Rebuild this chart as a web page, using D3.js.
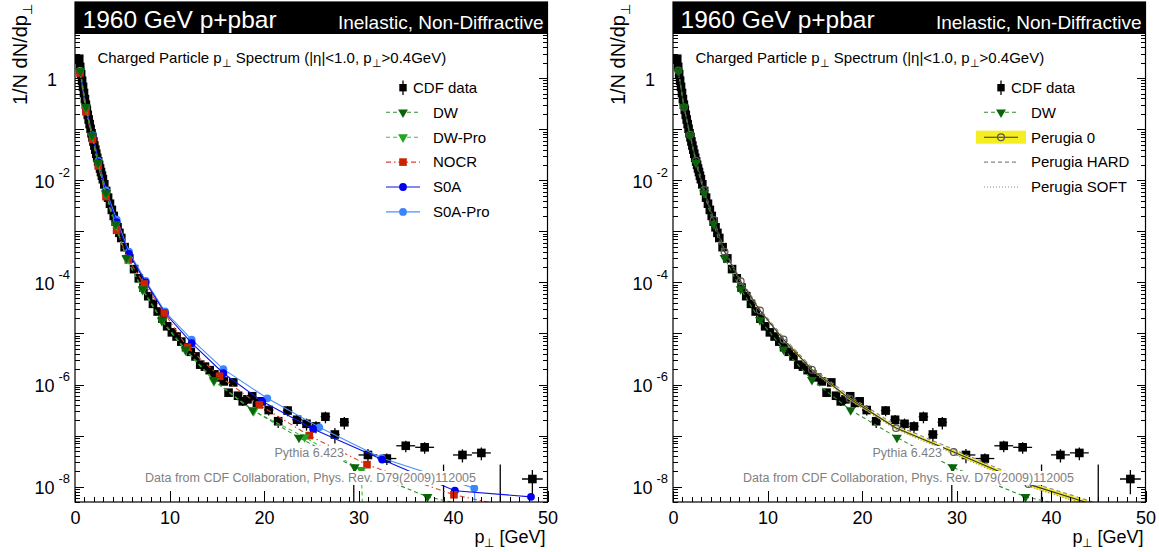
<!DOCTYPE html>
<html>
<head>
<meta charset="utf-8">
<script src="https://cdn.jsdelivr.net/npm/d3@7"></script>
<style>
  body { margin: 0; background: #fff; }
  svg text { font-family: "Liberation Sans", Arial, Helvetica, sans-serif; }
</style>
</head>
<body>
<div id="chart"></div>
<script>
// CDF data: bin centre, half width, value, error
const cdfPt = [0.45,0.55,0.65,0.75,0.85,0.95,1.05,1.15,1.25,1.35,1.45,1.55,1.65,1.75,1.85,1.95,2.05,2.15,2.25,2.35,2.45,2.55,2.65,2.75,2.85,2.95,
  3.1,3.3,3.5,3.7,3.9,4.1,4.3,4.5,4.7,4.9,
  5.25,5.75,6.25,6.75,7.25,7.75,8.25,8.75,9.25,9.75,
  10.25,10.75,11.25,11.75,12.25,12.75,13.25,13.75,14.25,14.75,15.25,15.75,16.25,16.75,17.25,17.75,18.25,18.75,19.25,19.75,
  20.5,21.5,22.5,23.5,24.5,25.5,26.5,27.5,28.5,29.5,
  31,33,35,37,39,41,43,45,48.4];
const cdfPtErr = [0.05,0.05,0.05,0.05,0.05,0.05,0.05,0.05,0.05,0.05,0.05,0.05,0.05,0.05,0.05,0.05,0.05,0.05,0.05,0.05,0.05,0.05,0.05,0.05,0.05,0.05,
  0.1,0.1,0.1,0.1,0.1,0.1,0.1,0.1,0.1,0.1,
  0.25,0.25,0.25,0.25,0.25,0.25,0.25,0.25,0.25,0.25,
  0.25,0.25,0.25,0.25,0.25,0.25,0.25,0.25,0.25,0.25,0.25,0.25,0.25,0.25,0.25,0.25,0.25,0.25,0.25,0.25,
  0.5,0.5,0.5,0.5,0.5,0.5,0.5,0.5,0.5,0.5,
  1,1,1,1,1,1,1,1,1.1];
const cdfVal = [2.40,1.66,1.20,0.891,0.676,0.513,0.389,0.302,0.240,0.191,0.155,0.126,0.102,0.0832,0.0692,0.0575,0.0479,0.0398,0.0331,0.0275,0.0234,0.0200,0.0170,0.0145,0.0123,0.0105,
  8.32e-3,6.17e-3,4.57e-3,3.47e-3,2.63e-3,2.00e-3,1.55e-3,1.20e-3,9.33e-4,7.41e-4,
  4.90e-4,2.95e-4,1.82e-4,1.20e-4,7.94e-5,5.37e-5,3.80e-5,2.69e-5,1.95e-5,1.38e-5,
  1.05e-5,8.71e-6,6.92e-6,5.37e-6,4.37e-6,3.55e-6,2.45e-6,2.24e-6,1.91e-6,1.58e-6,1.38e-6,1.15e-6,6.92e-7,1.10e-6,6.03e-7,4.68e-7,5.13e-7,5.89e-7,4.37e-7,4.68e-7,
  3.16e-7,1.91e-7,3.09e-7,2.04e-7,1.70e-7,1.51e-7,2.34e-7,1.05e-7,1.82e-7,3e-9,
  4.17e-8,3.55e-8,6.31e-8,5.89e-8,3e-9,4.17e-8,4.57e-8,3e-9,1.41e-8];
const cdfErr = [0.07,0.05,0.036,0.027,0.02,0.015,0.012,0.009,0.007,0.006,0.005,0.004,0.003,0.0025,0.0021,0.0017,0.0014,0.0012,0.001,0.0008,0.0007,0.0006,0.0005,0.00044,0.00037,0.00032,
  2.5e-4,1.9e-4,1.4e-4,1.0e-4,8e-5,6e-5,5e-5,4e-5,3e-5,2.2e-5,
  2.5e-5,1.5e-5,9e-6,6e-6,4e-6,2.7e-6,1.9e-6,1.3e-6,1.0e-6,7e-7,
  1.0e-6,9e-7,7e-7,6e-7,5e-7,4e-7,3e-7,3e-7,2.5e-7,2.2e-7,2e-7,1.7e-7,1.2e-7,1.7e-7,1.1e-7,9e-8,1e-7,1.1e-7,9e-8,1e-7,
  7e-8,5e-8,7e-8,5e-8,4.5e-8,4e-8,6e-8,3.5e-8,5e-8,2.4e-8,
  1.3e-8,9e-9,1.6e-8,1.5e-8,2.4e-8,1.2e-8,1.3e-8,2.4e-8,7e-9];

// Pythia tunes
const dwPt = [0.56,1.16,1.8,2.43,3.28,4.3,5.45,7.16,9.2,11.7,14.7,18.8,23.7,29.6,37.3,47.3];
const dwVal = [1.38,0.275,0.0759,0.0219,5.62e-3,1.38e-3,3.02e-4,7.41e-5,1.82e-5,4.90e-6,1.23e-6,3.16e-7,9.12e-8,2.40e-8,6.31e-9,2.51e-9];
const dwProPt = [0.56,1.16,1.8,2.43,3.28,4.3,5.45,7.16,9.2,11.7,14.7,18.9,24.3,30.3,30.6];
const dwProVal = [1.38,0.263,0.0741,0.0214,5.37e-3,1.32e-3,2.88e-4,7.08e-5,1.74e-5,4.68e-6,1.17e-6,3.02e-7,9.33e-8,2.14e-8,0];
const nocrPt = [0.53,1.16,1.87,2.47,3.28,4.4,5.64,7.34,9.45,11.9,15.3,19.5,24.8,30.9,40.1,48.6];
const nocrVal = [1.26,0.219,0.0631,0.0191,4.79e-3,1.05e-3,2.75e-4,9.33e-5,2.51e-5,5.37e-6,1.45e-6,3.98e-7,1.0e-7,2.69e-8,6.92e-9,3.16e-9];
const s0aPt = [0.53,1.16,1.87,2.47,3.28,4.41,5.71,7.48,9.52,12.35,15.7,19.8,25.2,32.5,40.2,48.25];
const s0aVal = [1.32,0.234,0.0724,0.0224,5.75e-3,1.51e-3,3.63e-4,1.0e-4,2.51e-5,6.46e-6,1.66e-6,4.68e-7,1.35e-7,3.39e-8,8.32e-9,6.31e-9];
const s0aProPt = [0.53,1.16,1.87,2.47,3.28,4.41,5.71,7.48,9.52,12.35,15.7,20.35,25.85,32.45,42.25,42.6];
const s0aProVal = [1.38,0.251,0.0759,0.0240,6.31e-3,1.70e-3,3.98e-4,1.07e-4,2.69e-5,7.59e-6,2.0e-6,5.37e-7,1.45e-7,3.63e-8,9.33e-9,0];
const perugiaPt = [0.56,1.16,1.8,2.43,3.28,4.3,5.45,7.16,9.2,11.7,14.7,18.7,23.6,29.7,37.6,47.0];
const perugia0Val = [1.41,0.269,0.0776,0.0240,6.46e-3,1.66e-3,3.98e-4,1.05e-4,2.82e-5,7.59e-6,1.95e-6,5.25e-7,1.41e-7,4.79e-8,1.12e-8,3.16e-9];
const perugia0RelErr = [0.02,0.02,0.02,0.02,0.03,0.03,0.03,0.04,0.04,0.05,0.05,0.06,0.07,0.08,0.1,0.12];
const perugiaHardVal = [1.45,0.275,0.0794,0.0251,6.76e-3,1.74e-3,4.27e-4,1.12e-4,3.02e-5,8.32e-6,2.14e-6,5.89e-7,1.58e-7,5.37e-8,1.26e-8,3.55e-9];
const perugiaSoftVal = [1.38,0.263,0.0759,0.0234,6.17e-3,1.58e-3,3.80e-4,1.0e-4,2.69e-5,7.24e-6,1.82e-6,4.90e-7,1.32e-7,4.37e-8,1.02e-8,2.82e-9];

// axis labels
const xTicks = [0, 10, 20, 30, 40, 50];
const yLabelExps = [0, -2, -4, -6, -8];

const svg = d3.select("#chart").append("svg")
  .attr("width", 1159).attr("height", 552);
svg.append("rect").attr("width", 1159).attr("height", 552).attr("fill", "#fff");

const x = d3.scaleLinear().domain([0, 50]).range([0, 472.5]);
const y = d3.scaleLog().domain([5e-9, 31]).range([502, 2]);
const yPos = (v) => (v > 0 ? y(v) : 560); // empty bins fall below the frame
const W = x.range()[1];

const zip = (pt, val) => pt.map((p, i) => [p, val[i]]);

const dw = { name: "DW", pts: zip(dwPt, dwVal), line: "#2f8f2f", fill: "#0a640a", dash: "4,3", marker: "tri" };
const dwPro = { name: "DW-Pro", pts: zip(dwProPt, dwProVal), line: "#3cc43c", fill: "#22a622", dash: "4,3", marker: "tri" };
const nocr = { name: "NOCR", pts: zip(nocrPt, nocrVal), line: "#d8442c", fill: "#cc2200", dash: "5,3,1.5,3", marker: "sq" };
const s0a = { name: "S0A", pts: zip(s0aPt, s0aVal), line: "#1010e6", fill: "#0000ee", dash: null, marker: "circ" };
const s0aPro = { name: "S0A-Pro", pts: zip(s0aProPt, s0aProVal), line: "#4a90ff", fill: "#3a86ff", dash: null, marker: "circ" };
const p0 = { name: "Perugia 0", pts: zip(perugiaPt, perugia0Val), line: "#333", fill: "none", dash: null, marker: "open", band: perugia0RelErr };
const pHard = { name: "Perugia HARD", pts: zip(perugiaPt, perugiaHardVal), line: "#888", fill: "none", dash: "4,3", marker: null };
const pSoft = { name: "Perugia SOFT", pts: zip(perugiaPt, perugiaSoftVal), line: "#888", fill: "none", dash: "1,2", marker: null };

function drawMarker(sel, s, px, py) {
  if (s.marker === "tri") {
    sel.append("path").attr("d", d3.symbol().type(d3.symbolTriangle).size(42)())
      .attr("transform", `translate(${px},${py}) rotate(180)`).attr("fill", s.fill);
  } else if (s.marker === "sq") {
    sel.append("rect").attr("x", px - 3.8).attr("y", py - 3.8).attr("width", 7.6).attr("height", 7.6).attr("fill", s.fill);
  } else if (s.marker === "circ") {
    sel.append("circle").attr("cx", px).attr("cy", py).attr("r", 3.9).attr("fill", s.fill);
  } else if (s.marker === "open") {
    sel.append("circle").attr("cx", px).attr("cy", py).attr("r", 3.4)
      .attr("fill", "none").attr("stroke", "#555").attr("stroke-width", 1.2);
  }
}

function drawPanel(x0, series, id) {
  const g = svg.append("g").attr("transform", `translate(${x0},0)`);
  g.append("clipPath").attr("id", "clip" + id)
    .append("rect").attr("x", 0).attr("y", 2).attr("width", W).attr("height", 500);
  const plot = g.append("g").attr("clip-path", `url(#clip${id})`);

  // data
  const cdf = cdfPt.map((p, i) => ({ p, dp: cdfPtErr[i], v: cdfVal[i], e: cdfErr[i] }));
  plot.selectAll("line.ex").data(cdf).join("line").attr("class", "ex")
    .attr("x1", (d) => x(d.p - d.dp)).attr("x2", (d) => x(d.p + d.dp))
    .attr("y1", (d) => yPos(d.v)).attr("y2", (d) => yPos(d.v))
    .attr("stroke", "#000").attr("stroke-width", 1.3);
  plot.selectAll("line.ey").data(cdf).join("line").attr("class", "ey")
    .attr("x1", (d) => x(d.p)).attr("x2", (d) => x(d.p))
    .attr("y1", (d) => yPos(d.v + d.e)).attr("y2", (d) => yPos(d.v - d.e))
    .attr("stroke", "#000").attr("stroke-width", 1.3);
  plot.selectAll("rect.cdf").data(cdf).join("rect").attr("class", "cdf")
    .attr("x", (d) => x(d.p) - 4.3).attr("y", (d) => yPos(d.v) - 4.3)
    .attr("width", 8.6).attr("height", 8.6).attr("fill", "#000");

  // MC
  const line = d3.line().x((d) => x(d[0])).y((d) => yPos(d[1]));
  series.forEach((s) => {
    if (s.band) {
      const area = d3.area().x((d) => x(d[0]))
        .y0((d, i) => yPos(d[1] * (1 - s.band[i])))
        .y1((d, i) => yPos(d[1] * (1 + s.band[i])));
      plot.append("path").datum(s.pts).attr("d", area).attr("fill", "#f5ee20");
    }
  });
  series.slice().reverse().forEach((s) => {
    plot.append("path").datum(s.pts).attr("d", line)
      .attr("fill", "none").attr("stroke", s.line).attr("stroke-width", 1.1)
      .attr("stroke-dasharray", s.dash);
    if (s.marker) {
      const mg = plot.append("g");
      s.pts.filter((d) => d[1] > 0).forEach((d) => drawMarker(mg, s, x(d[0]), yPos(d[1])));
    }
  });

  // axes
  const minors = [];
  for (let e = -9; e <= 1; e++) for (let m = 2; m <= 9; m++) minors.push(m * 10 ** e);
  const decades = d3.range(-8, 2).map((e) => 10 ** e);
  const axStyle = (a) => a.call((a) => a.select(".domain").remove())
    .call((a) => a.selectAll("line").attr("stroke", "#000").attr("shape-rendering", "crispEdges"));

  g.append("g").attr("transform", "translate(0,502)")
    .call(d3.axisBottom(x).tickValues(d3.range(0, 51, 1)).tickSize(-5).tickFormat("")).call(axStyle);
  g.append("g").attr("transform", "translate(0,502)")
    .call(d3.axisBottom(x).tickValues(xTicks).tickSize(-11).tickPadding(9).tickFormat(d3.format("d")))
    .call(axStyle)
    .call((a) => a.selectAll("text").attr("font-size", 18).attr("fill", "#000")
      .attr("font-family", "Liberation Sans, Arial, sans-serif"));
  [[d3.axisLeft, 0], [d3.axisRight, W]].forEach(([ax, tx]) => {
    g.append("g").attr("transform", `translate(${tx},0)`)
      .call(ax(y).tickValues(minors.filter((v) => v >= 5e-9 && v <= 31)).tickSize(-5).tickFormat("")).call(axStyle);
    g.append("g").attr("transform", `translate(${tx},0)`)
      .call(ax(y).tickValues(decades).tickSize(-9).tickFormat("")).call(axStyle);
  });

  yLabelExps.forEach((e) => {
    const t = g.append("text").attr("y", y(10 ** e)).attr("dy", "0.42em")
      .attr("font-size", 18).attr("text-anchor", "end");
    if (e === 0) {
      t.attr("x", -18).text("1");
    } else {
      t.attr("x", -5);
      t.append("tspan").text("10");
      t.append("tspan").attr("dx", 4).attr("dy", -11).attr("font-size", 13).text(String(e));
    }
  });

  // axis titles
  const yt = g.append("text").attr("transform", "translate(-48,4) rotate(-90)")
    .attr("font-size", 20).attr("text-anchor", "end");
  yt.append("tspan").text("1/N dN/dp");
  yt.append("tspan").attr("dy", 5).attr("font-size", 13).text("\u22a5");

  const xt = g.append("text").attr("x", W - 2).attr("y", 543)
    .attr("font-size", 18).attr("text-anchor", "end");
  xt.append("tspan").text("p");
  xt.append("tspan").attr("dy", 4).attr("font-size", 12).text("\u22a5");
  xt.append("tspan").attr("dy", -4).text(" [GeV]");

  // plot title
  const tt = g.append("text").attr("x", 22.4).attr("y", 63).attr("font-size", 15);
  tt.append("tspan").text("Charged Particle p");
  tt.append("tspan").attr("dy", 4).attr("font-size", 10.5).text("\u22a5");
  tt.append("tspan").attr("dy", -4).text(" Spectrum (|\u03b7|<1.0, p");
  tt.append("tspan").attr("dy", 4).attr("font-size", 10.5).text("\u22a5");
  tt.append("tspan").attr("dy", -4).text(">0.4GeV)");

  // notes with white boxes
  [["Pythia 6.423", 457], ["Data from CDF Collaboration, Phys. Rev. D79(2009)112005", 482]].forEach(([txt, ty]) => {
    const n = g.append("text").attr("x", txt.startsWith("Pythia") ? 269 : 401).attr("y", ty)
      .attr("text-anchor", "end").attr("font-size", 12.5).attr("fill", "#7f7f7f").text(txt);
    const b = n.node().getBBox();
    g.insert("rect", () => n.node())
      .attr("x", b.x - 1).attr("y", b.y).attr("width", b.width + 2).attr("height", b.height)
      .attr("fill", "#fff");
  });

  // header bar
  g.append("rect").attr("x", 0).attr("y", 2).attr("width", W).attr("height", 32).attr("fill", "#000");
  g.append("text").attr("x", 7.5).attr("y", 28).attr("font-size", 24.5).attr("fill", "#fff").text("1960 GeV p+pbar");
  g.append("text").attr("x", W - 4).attr("y", 29).attr("font-size", 19).attr("fill", "#fff")
    .attr("text-anchor", "end").text("Inelastic, Non-Diffractive");

  // frame
  g.append("rect").attr("x", 0).attr("y", 2).attr("width", W).attr("height", 500)
    .attr("fill", "none").attr("stroke", "#000").attr("stroke-width", 1.2);

  // legend
  const lg = g.append("g");
  lg.append("line").attr("x1", 328).attr("x2", 328).attr("y1", 80.5).attr("y2", 95).attr("stroke", "#000").attr("stroke-width", 1.3);
  lg.append("rect").attr("x", 324.3).attr("y", 84).attr("width", 7.4).attr("height", 7.4).attr("fill", "#000");
  lg.append("text").attr("x", 338).attr("y", 93).attr("font-size", 15).text("CDF data");
  series.forEach((s, i) => {
    const ry = 112.3 + i * 24.9;
    if (s.band) {
      lg.append("rect").attr("x", 303).attr("y", ry - 6.5).attr("width", 50).attr("height", 13).attr("fill", "#f5ee20");
    }
    lg.append("line").attr("x1", 311).attr("x2", 345).attr("y1", ry).attr("y2", ry)
      .attr("stroke", s.line).attr("stroke-width", 1.1).attr("stroke-dasharray", s.dash);
    if (s.marker) drawMarker(lg, s, 328, ry);
    lg.append("text").attr("x", 358).attr("y", ry + 5.3).attr("font-size", 15).text(s.name);
  });
}

drawPanel(75, [dw, dwPro, nocr, s0a, s0aPro], "L");
drawPanel(673, [dw, p0, pHard, pSoft], "R");
</script>
</body>
</html>
